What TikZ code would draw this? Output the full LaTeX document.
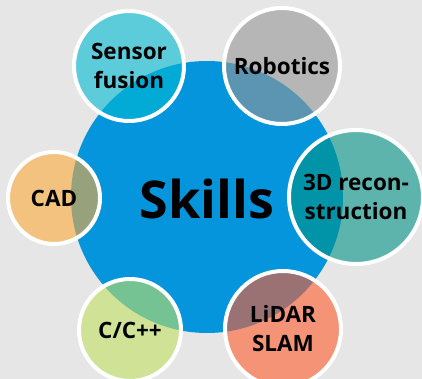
\documentclass[tikz,border=0pt]{standalone}
\usepackage{fontspec}
\setmainfont{Open Sans}
\definecolor{bggray}{RGB}{230,230,230}
\definecolor{skillblue}{RGB}{4,149,221}
\definecolor{fusioncyan}{RGB}{0,186,210}
\definecolor{robotgray}{RGB}{150,150,150}
\definecolor{reconteal}{RGB}{0,148,135}
\definecolor{cadorange}{RGB}{250,170,58}
\definecolor{cpplime}{RGB}{193,224,98}
\definecolor{slamred}{RGB}{255,92,46}

\begin{document}
\begin{tikzpicture}[x=1pt,y=-1pt]
\tikzset{
  skill/.style={circle, draw=white, line width=4pt, fill=#1, fill opacity=0.6,
    text opacity=1, align=center, inner sep=0pt,
    font=\bfseries\fontsize{22.5}{29}\selectfont}
}
% background
\fill [bggray] (0,0) rectangle (422,379);
\useasboundingbox (0,0) rectangle (422,379);
% central circle
\node [circle, fill=skillblue, minimum size=272pt, inner sep=0pt] (core) at (207,197) {};
\node [font=\bfseries\fontsize{52}{60}\selectfont] (title) at (207,199) {Skills};
% surrounding skills
\node [skill=fusioncyan, minimum size=110pt] (fusion) at (129,66) {Sensor\\fusion};
\node [skill=robotgray, minimum size=116pt] (robot) at (282,66) {Robotics};
\node [skill=reconteal, minimum size=134pt] (recon) at (356,197) {3D recon-\\struction};
\node [skill=cadorange, minimum size=92pt] (cad) at (54,198) {CAD};
\node [skill=cpplime, minimum size=102pt] (cpp) at (130,330) {C/C++};
\node [skill=slamred, minimum size=116pt] (slam) at (283,329) {LiDAR\\SLAM};
\end{tikzpicture}
\end{document}
